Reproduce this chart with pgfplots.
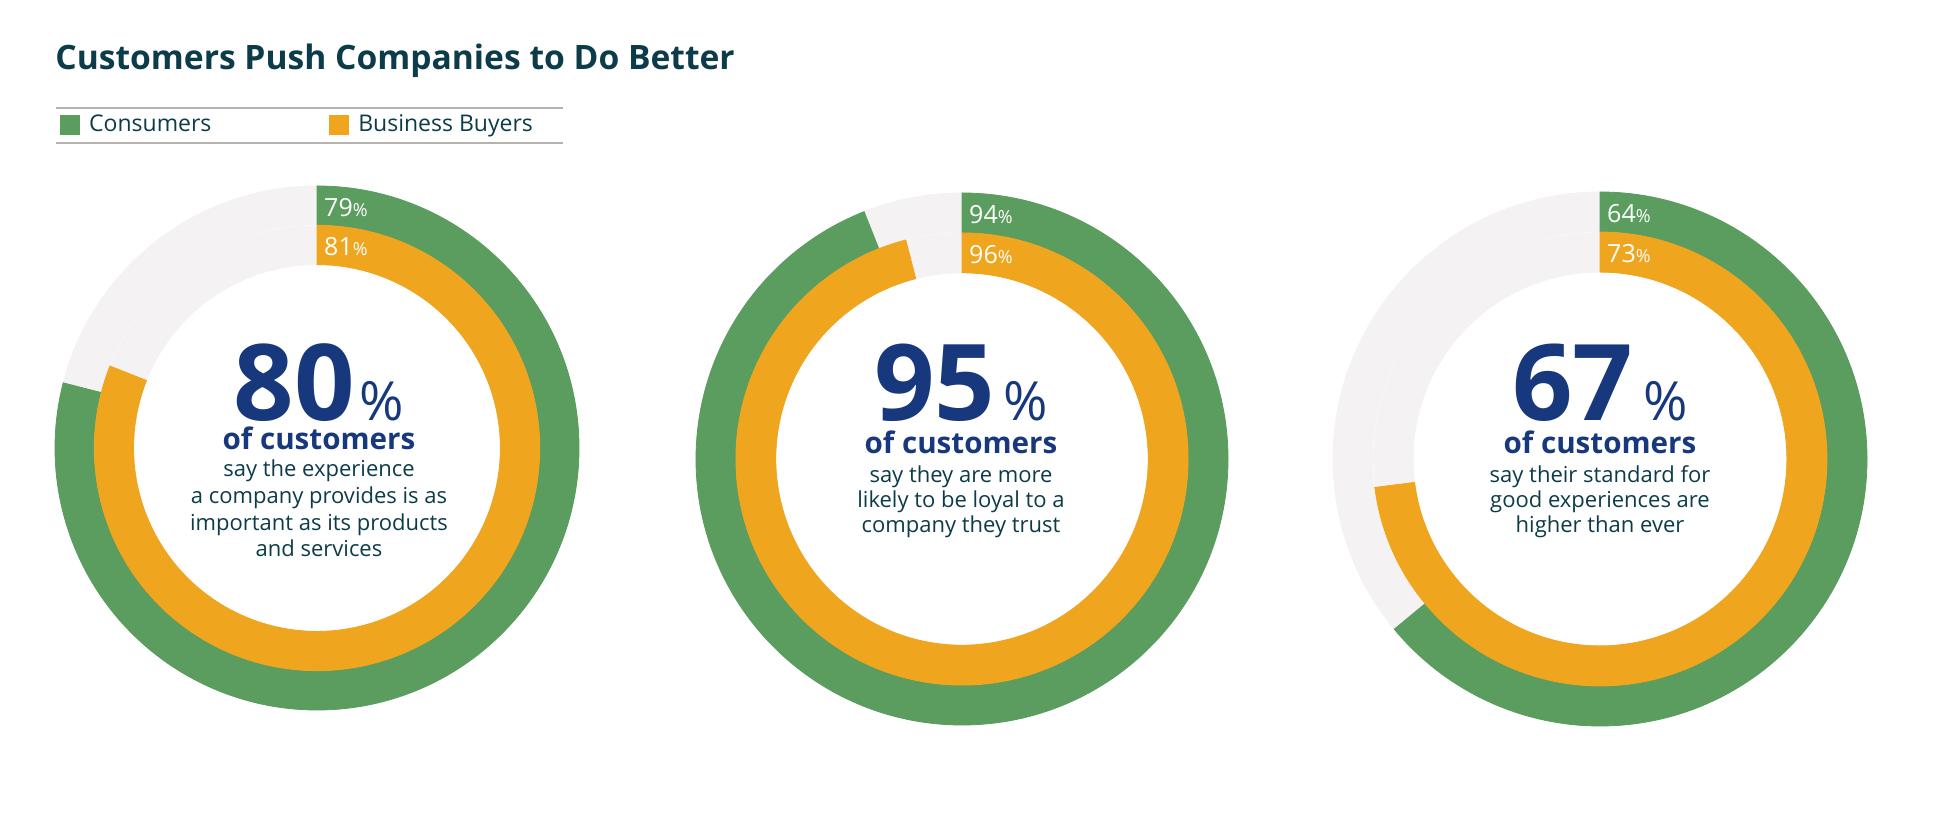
\documentclass[border=0pt]{standalone}
\usepackage{pgfplots}
\pgfplotsset{compat=1.18}
\usepackage{pgfplotstable}
\usepackage{fontspec}
\setmainfont{Open Sans}

\definecolor{cgreen}{HTML}{5B9C5F}
\definecolor{corange}{HTML}{EFA51D}
\definecolor{cgray}{HTML}{F4F2F2}
\definecolor{cblue}{HTML}{17387D}
\definecolor{cteal}{HTML}{0C3B4A}
\definecolor{cline}{HTML}{B8B2AF}

% one row per donut: centre (px, y up), outer radius (px), consumers, business buyers
\pgfplotstableread{
cx   cy   r    cons  biz
317  382  262  79    81
962  371  266  94    96
1600 371  267  64    73
}\donuts

\pgfdeclareplotmark{blank}{}

\newcommand\bignum[4]{\node[anchor=base, inner sep=0pt, text=cblue] at (axis cs:#1,#2)
  {{\fontsize{53}{53}\selectfont\bfseries #3}\kern#4{\fontsize{27}{27}\selectfont\%}};}
\newcommand\ofcust[2]{\node[anchor=base, inner sep=0pt, text=cblue, font=\fontsize{14.8}{14.8}\selectfont\bfseries] at (axis cs:#1,#2) {of customers};}
\newcommand\body[3]{\node[anchor=base, inner sep=0pt, text=cteal, font=\fontsize{11}{11}\selectfont] at (axis cs:#1,#2) {#3};}

\begin{document}
\begin{tikzpicture}
\begin{axis}[
  name=ax,
  x=0.5pt, y=0.5pt,
  xmin=0, xmax=1940, ymin=0, ymax=830,
  hide axis, clip=false,
  legend columns=2,
  legend cell align=left,
  legend style={draw=none, fill=none, at={(axis cs:60,705)}, anchor=west,
    inner sep=0pt, row sep=0pt,
    nodes={inner sep=0pt, text=cteal, font=\fontsize{11.5}{11.5}\selectfont},
    /tikz/every odd column/.append style={column sep=4.5pt},
    /tikz/every even column/.append style={column sep=59pt}},
]
% rules above and below the legend
\addplot[cline, line width=0.8pt, forget plot] coordinates {(56,722) (563,722)};
\addplot[cline, line width=0.8pt, forget plot] coordinates {(56,687) (563,687)};

% outer ring: consumers
\addplot[scatter, only marks, mark=blank,
  legend image code/.code={\fill[cgreen] (0pt,-4.75pt) rectangle (9.5pt,4.75pt);},
  visualization depends on={\thisrow{r} \as \rad},
  visualization depends on={\thisrow{cons} \as \pct},
  scatter/@post marker code/.code={},
  scatter/@pre marker code/.code={
    \pgfmathsetmacro\ro{0.5*\rad}
    \pgfmathsetmacro\rm{0.425*\rad}
    \pgfmathsetmacro\rg{0.425*\rad+0.3}
    \pgfmathsetmacro\ang{90-3.6*\pct}
    \pgfmathsetmacro\lyb{0.4625*\rad-5.2}
    \pgfmathtruncatemacro\lab{\pct}
    \fill[cgray, even odd rule] (0,0) circle[radius=\ro pt] (0,0) circle[radius=\rg pt];
    \fill[cgreen] (90:\ro pt) arc[start angle=90, end angle=\ang, radius=\ro pt]
      -- (\ang:\rm pt) arc[start angle=\ang, end angle=90, radius=\rm pt] -- cycle;
    \node[anchor=base west, inner sep=0pt, text=white, font=\fontsize{12.5}{12.5}\selectfont]
      at (3.4pt,\lyb pt) {\lab{\fontsize{9}{9}\selectfont\%}};
  },
] table[x=cx, y=cy] {\donuts};
\addlegendentry{Consumers}

% inner ring: business buyers
\addplot[scatter, only marks, mark=blank,
  legend image code/.code={\fill[corange] (0pt,-4.75pt) rectangle (9.5pt,4.75pt);},
  visualization depends on={\thisrow{r} \as \rad},
  visualization depends on={\thisrow{biz} \as \pct},
  scatter/@post marker code/.code={},
  scatter/@pre marker code/.code={
    \pgfmathsetmacro\ro{0.425*\rad}
    \pgfmathsetmacro\rg{0.425*\rad-0.3}
    \pgfmathsetmacro\ri{0.35*\rad}
    \pgfmathsetmacro\ang{90-3.6*\pct}
    \pgfmathsetmacro\lyb{0.3875*\rad-5.2}
    \pgfmathtruncatemacro\lab{\pct}
    \fill[cgray, even odd rule] (0,0) circle[radius=\rg pt] (0,0) circle[radius=\ri pt];
    \fill[corange] (90:\ro pt) arc[start angle=90, end angle=\ang, radius=\ro pt]
      -- (\ang:\ri pt) arc[start angle=\ang, end angle=90, radius=\ri pt] -- cycle;
    \node[anchor=base west, inner sep=0pt, text=white, font=\fontsize{12.5}{12.5}\selectfont]
      at (3.4pt,\lyb pt) {\lab{\fontsize{9}{9}\selectfont\%}};
  },
] table[x=cx, y=cy] {\donuts};
\addlegendentry{Business Buyers}

% title
\node[anchor=base west, inner sep=0pt, text=cteal, font=\fontsize{16.8}{16.8}\selectfont\bfseries]
  at (axis cs:55,760) {Customers Push Companies to Do Better};

% centre texts
\bignum{319}{409}{80}{2.5pt}
\ofcust{319}{380}
\body{319}{353}{say the experience}
\body{319}{326}{a company provides is as}
\body{319}{299}{important as its products}
\body{319}{273}{and services}

\bignum{961}{409}{95}{4pt}
\ofcust{961}{376}
\body{961}{347}{say they are more}
\body{961}{322}{likely to be loyal to a}
\body{961}{297}{company they trust}

\bignum{1600}{409}{67}{5pt}
\ofcust{1600}{376}
\body{1600}{347}{say their standard for}
\body{1600}{322}{good experiences are}
\body{1600}{297}{higher than ever}
\end{axis}
\pgfresetboundingbox
\path[use as bounding box] (ax.south west) rectangle (ax.north east);
\end{tikzpicture}
\end{document}
